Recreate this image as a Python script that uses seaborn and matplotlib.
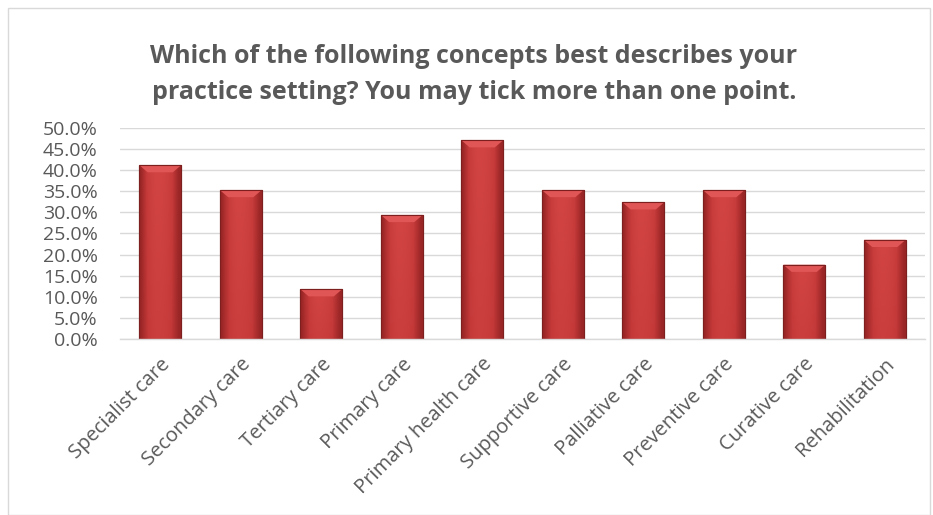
import matplotlib
matplotlib.use("Agg")
import matplotlib.pyplot as plt
import seaborn as sns
import pandas as pd
import numpy as np
from matplotlib.ticker import PercentFormatter
from matplotlib.patches import Rectangle, Polygon
from matplotlib.colors import LinearSegmentedColormap

categories = ["Specialist care", "Secondary care", "Tertiary care", "Primary care",
              "Primary health care", "Supportive care", "Palliative care",
              "Preventive care", "Curative care", "Rehabilitation"]
values = [41.2, 35.3, 11.8, 29.4, 47.1, 35.3, 32.4, 35.3, 17.6, 23.5]
yticks = [0, 5, 10, 15, 20, 25, 30, 35, 40, 45, 50]
title = "Which of the following concepts best describes your\npractice setting? You may tick more than one point."

df = pd.DataFrame({"category": categories, "value": values})

sns.set_theme(style="white")
plt.rcParams["font.family"] = ["Open Sans", "DejaVu Sans"]

fig = plt.figure(figsize=(9.33, 5.15), dpi=100)
ax = fig.add_axes([120/933, 176/515, 805/933, 211/515])

sns.barplot(data=df, x="category", y="value", ax=ax, color="#c43a3a",
            width=0.52, edgecolor="#7e1f1f", linewidth=0.8, saturation=1)

ax.set_ylim(0, 50)
ax.set_xlim(-0.5, len(categories) - 0.5)

# gradient shading on the bars (Excel-like bevel look)
hgrad = np.array([0.0, 0.35, 0.7, 0.9, 1.0, 1.0, 0.95, 0.85, 0.65, 0.3, 0.0])
cmap = LinearSegmentedColormap.from_list("bar", ["#9a2626", "#c33838", "#d24444"])
for p in list(ax.patches):
    x0, y0 = p.get_x(), p.get_y()
    w, h = p.get_width(), p.get_height()
    vgrad = np.linspace(0.75, 1.0, 50)[:, None]
    img = vgrad * hgrad[None, :]
    im = ax.imshow(img, cmap=cmap, vmin=0, vmax=1, extent=[x0, x0 + w, y0, y0 + h],
                   origin="lower", aspect="auto", zorder=p.get_zorder() + 0.1,
                   interpolation="bilinear")
    im.set_clip_path(p)
    bh = 1.7
    bw = w * 0.2
    bevel = Polygon([[x0, y0 + h], [x0 + w, y0 + h], [x0 + w - bw, y0 + h - bh],
                     [x0 + bw, y0 + h - bh]], closed=True, facecolor="#e05555",
                    edgecolor="none", zorder=p.get_zorder() + 0.2)
    ax.add_patch(bevel)
    ax.add_patch(Rectangle((x0, y0), w, h, fill=False, edgecolor="#7e1f1f",
                           linewidth=0.8, zorder=p.get_zorder() + 0.3))

ax.set_yticks(yticks)
ax.yaxis.set_major_formatter(PercentFormatter(decimals=1))
ax.grid(axis="y", color="#d9d9d9", linewidth=1)
ax.set_axisbelow(True)
for s in ["top", "right", "left"]:
    ax.spines[s].set_visible(False)
ax.spines["bottom"].set_color("#d9d9d9")
ax.spines["bottom"].set_linewidth(1)
ax.set_xlabel("")
ax.set_ylabel("")
ax.tick_params(axis="y", labelsize=14, colors="#595959", length=0, pad=16)
ax.tick_params(axis="x", labelsize=14.5, colors="#595959", length=0, pad=11)
plt.setp(ax.get_xticklabels(), rotation=45, ha="right", rotation_mode="anchor")

fig.text(0.508, 0.855, title, ha="center", va="center", fontsize=18,
         fontweight="bold", color="#595959", linespacing=1.55)

fig.patches.append(Rectangle((8/933, 0), 922/933, 507/515, transform=fig.transFigure,
                             fill=False, edgecolor="#d9d9d9", linewidth=1))

fig.savefig("out.png", dpi=100)
